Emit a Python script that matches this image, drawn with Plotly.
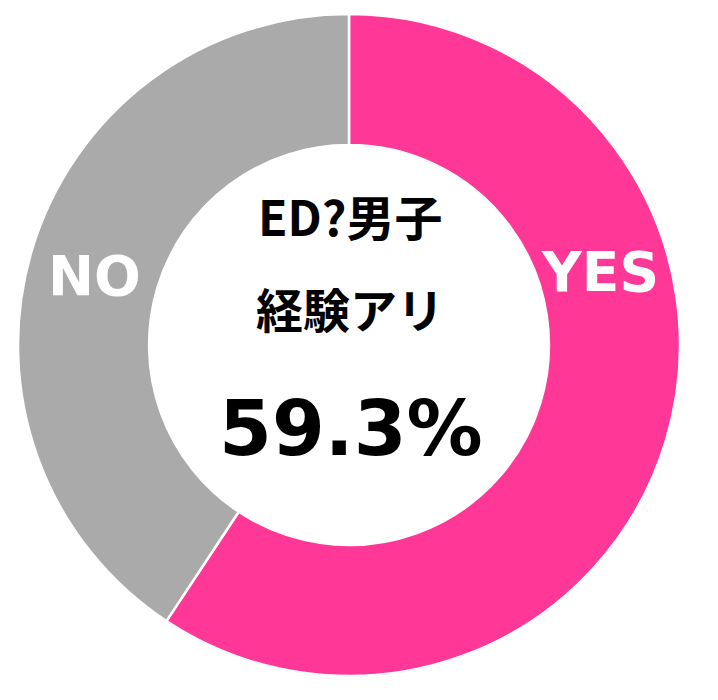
import plotly.graph_objects as go

labels = ["YES", "NO"]
values = [59.3, 40.7]
colors = ["#FF3796", "#AAAAAA"]
center_lines = ["ED?男子", "経験アリ"]
center_value = "59.3%"

W, H = 718, 700

fig = go.Figure(go.Pie(
    labels=labels,
    values=values,
    hole=0.604,
    sort=False,
    direction="clockwise",
    rotation=0,
    textinfo="none",
    hoverinfo="label+percent",
    marker=dict(colors=colors, line=dict(color="white", width=2.5)),
    domain=dict(x=[18 / W, 680 / W], y=[1 - 676 / H, 1 - 14 / H]),
    showlegend=False,
))

label_pos = {"YES": (600, 272), "NO": (94, 276)}
for lab in labels:
    px, py = label_pos[lab]
    fig.add_annotation(
        x=px / W, y=1 - py / H, xref="paper", yref="paper",
        text=f"<b>{lab}</b>", showarrow=False,
        font=dict(family="DejaVu Sans", size=55, color="white"),
        xanchor="center", yanchor="middle",
    )

for txt, py, sz in zip(center_lines, [215, 307], [48, 47]):
    fig.add_annotation(
        x=350 / W, y=1 - py / H, xref="paper", yref="paper",
        text=f"<b>{txt}</b>", showarrow=False,
        font=dict(family="Noto Sans CJK JP", size=sz, color="black"),
        xanchor="center", yanchor="middle",
    )

fig.add_annotation(
    x=351 / W, y=1 - 428 / H, xref="paper", yref="paper",
    text=f"<b>{center_value}</b>", showarrow=False,
    font=dict(family="DejaVu Sans", size=76, color="black"),
    xanchor="center", yanchor="middle",
)

fig.update_layout(
    width=W, height=H,
    margin=dict(l=0, r=0, t=0, b=0),
    paper_bgcolor="white", plot_bgcolor="white",
)

fig.write_html(
    "out.html",
    config={"displayModeBar": False},
    post_script="document.body.style.margin='0';",
)
